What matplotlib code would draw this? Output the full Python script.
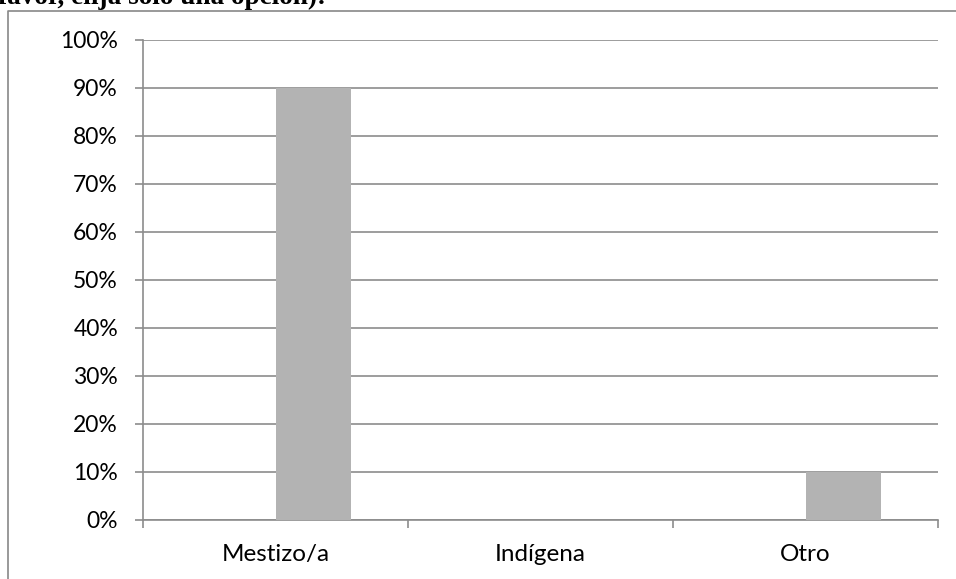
import matplotlib
matplotlib.use("Agg")
import matplotlib.pyplot as plt
from matplotlib.lines import Line2D
from matplotlib.ticker import FixedLocator, PercentFormatter

categories = ["Mestizo/a", "Indígena", "Otro"]
values = [0.90, 0.0, 0.10]
yticks = [0.0, 0.1, 0.2, 0.3, 0.4, 0.5, 0.6, 0.7, 0.8, 0.9, 1.0]
title_text = "favor, elija solo una opción):"

W, H = 956, 579
fig = plt.figure(figsize=(W / 100, H / 100), dpi=100)
ax = fig.add_axes([143 / W, 1 - 520 / H, (938 - 143) / W, (520 - 40) / H])

grid_c = "#8c8c8c"
bar_c = "#b3b3b3"

n = len(categories)
xs = list(range(n))
bar_w = 0.286
ax.bar(xs, values, width=bar_w, align="edge", color=bar_c, zorder=3)

ax.set_xlim(-0.5, n - 0.5)
ax.set_ylim(0, 1.0)
ax.set_yticks(yticks)
ax.yaxis.set_major_formatter(PercentFormatter(1.0, decimals=0))
ax.grid(axis="y", color=grid_c, linewidth=1.2, zorder=1)

ax.xaxis.set_major_locator(FixedLocator([i - 0.5 for i in range(n + 1)]))
ax.xaxis.set_major_formatter(plt.NullFormatter())
ax.xaxis.set_minor_locator(FixedLocator(xs))
ax.set_xticklabels(categories, minor=True)

font = "Lato"
ax.tick_params(axis="x", which="major", direction="out", length=6, width=1.2, color=grid_c)
ax.tick_params(axis="x", which="minor", length=0, pad=17, labelsize=17.5)
ax.tick_params(axis="y", direction="out", length=6, width=1.2, color=grid_c, pad=12, labelsize=16.5)
for lab in ax.get_xticklabels(minor=True) + ax.get_yticklabels():
    lab.set_fontfamily(font)
    lab.set_color("black")

for s in ["top", "right"]:
    ax.spines[s].set_visible(False)
ax.spines["left"].set_color(grid_c)
ax.spines["left"].set_linewidth(1.2)
ax.spines["bottom"].set_color(grid_c)
ax.spines["bottom"].set_linewidth(1.2)

# outer frame
fx = 8 / W
fy = 1 - 10.5 / H
fig.add_artist(Line2D([fx, fx, 1.0], [0.0, fy, fy], transform=fig.transFigure,
                      color="#888888", linewidth=1.2))

fig.text(-0.002, 1 - 4 / H, title_text, fontfamily="Liberation Serif", fontweight="bold",
         fontsize=19.6, ha="left", va="baseline")

fig.savefig("out.png", dpi=100)
